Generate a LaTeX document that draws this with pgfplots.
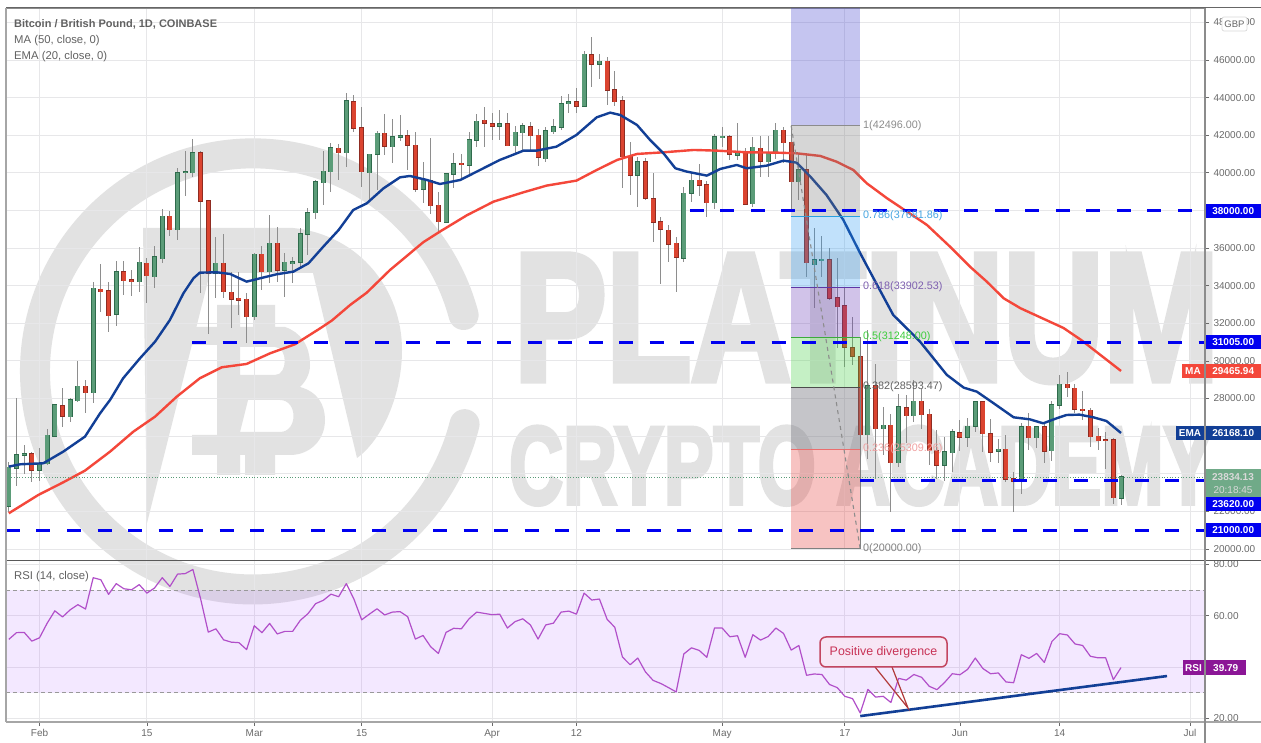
\documentclass[border=0pt]{standalone}
\usepackage{fontspec}
\setmainfont{Liberation Sans}
\newfontfamily\wmf[FakeBold=4]{Liberation Sans Bold}
\usepackage{pgfplots}
\usepackage{pgfplotstable}
\pgfplotsset{compat=1.18}
\definecolor{wm}{HTML}{E2E2E2}
\definecolor{gridc}{HTML}{E7E7E9}
\definecolor{tickc}{HTML}{6A6A6A}
\definecolor{cgreen}{HTML}{5B9C78}
\definecolor{cgreend}{HTML}{2F6B4C}
\definecolor{cred}{HTML}{DB4430}
\definecolor{credd}{HTML}{8F2C22}
\definecolor{wickc}{HTML}{8E8E8E}
\definecolor{emac}{HTML}{123F96}
\definecolor{mac}{HTML}{F4473A}
\definecolor{dashb}{HTML}{0000F0}
\definecolor{rsic}{HTML}{B14FC9}
\definecolor{rsit}{HTML}{8B1696}
\definecolor{lastbox}{HTML}{70AA88}

% d open high low close
\pgfplotstableread{
d o h l c
-4 22289 24646 21952 24344
-3 24309 28012 23370 25000
-2 25000 25514 23990 25060
0 24203 25354 23636 24557
1 24539 26400 24468 26045
2 26010 27700 25939 27658
4 27038 28012 26754 27924
5 27888 29979 27835 28650
7 28314 34214 27747 33860
10 32479 35314 31858 34747
13 34215 36041 33684 35244
15 34482 36111 33861 35528
16 35439 38062 35191 37690
18 36981 40277 36432 39993
19 40000 41180 38771 40060
20 40011 41819 39798 41074
23 34660 36608 33329 35191
28 32354 35758 32178 35670
30 34748 37743 34126 36254
32 34837 35723 33417 35244
33 35174 35546 34126 35280
34 35262 37087 35014 36750
35 36733 38115 35633 37885
36 37885 39621 37529 39533
37 39479 41180 38291 40082
38 40064 41570 39000 41322
40 41074 44228 40330 43821
43 40011 40986 38558 40986
44 40986 42244 39090 42102
46 41393 42846 40507 41907
47 41907 43077 41712 41960
50 39143 40596 38416 39657
53 37371 40000 37318 39958
54 39923 41039 39178 40490
56 40419 42191 39887 41765
57 41748 43112 41393 42740
60 42492 43343 41748 42599
62 41447 42492 41039 42155
63 42138 42634 41128 42510
66 40755 42421 40596 42244
67 42191 42846 42049 42457
68 42439 44087 42279 43679
69 43679 44193 43201 43786
71 43555 46497 43520 46302
73 45770 46302 44973 45930
78 39887 40862 38168 40596
84 35457 39267 35280 38912
85 38912 39976 38434 39604
88 38416 42067 38062 41907
89 41889 42421 41393 41943
91 40933 42669 40685 41128
93 38363 41925 38168 41358
95 40596 41960 39798 41074
96 41074 42669 40720 42262
99 39532 41038 38558 40152
101 35120 37051 32799 35368
102 35333 36644 34447 35403
108 26080 31644 24769 28685
110 26399 27568 24999 26576
112 24591 28242 24343 27568
114 27090 28986 26771 27852
118 24450 25974 23634 25159
119 25123 26363 24113 26239
121 25938 26984 25406 26523
122 26523 27860 26239 27816
125 25194 25832 24556 25300
128 23705 26682 22908 26505
130 25920 26540 25388 26505
132 25229 27887 24697 27657
133 27639 29251 27444 28755
141 22695 23935 22358 23829
}\greencandles

\pgfplotstableread{
d o h l c
-1 25053 25159 23582 24203
3 27605 28544 26506 27055
6 28650 28987 27250 28314
8 33808 35137 32620 33683
9 33718 34215 31557 32407
11 34747 35333 33506 34268
12 34304 34836 33471 34215
14 35190 35456 33099 34534
17 37690 37991 36627 36981
21 41074 41180 33595 38505
22 38505 38558 31433 34660
24 35191 36749 33329 33683
25 33647 34747 31734 33293
26 33328 34747 32443 33240
27 33275 33595 30973 32354
29 35670 36113 33771 34748
31 36254 37140 34214 34837
39 41304 41517 39621 41074
41 43785 44140 42190 42386
42 42403 43484 39231 40064
45 42102 43130 40950 41429
48 41960 42279 40153 41464
49 41464 42191 38966 39143
51 39586 41836 37814 38257
52 38275 39001 36786 37406
55 40507 40986 39621 40472
58 42793 43484 41393 42634
59 42599 43165 41748 42492
61 42599 43165 41429 41447
64 42457 42722 41128 41978
65 41996 42315 40383 40826
70 43768 44494 43201 43555
72 46284 47206 44583 45770
74 45930 46178 43608 44406
75 44423 45416 43555 43786
76 43821 44087 39178 40862
77 40844 41659 38824 39887
79 40596 40773 38540 38647
80 38611 39976 36343 37371
81 37406 37672 34075 37000
82 36946 37211 35280 36201
83 36255 36609 33685 35510
86 39604 40472 38788 39338
87 39356 39586 37637 38416
90 41907 42013 40685 40986
92 41110 41305 38275 38345
94 41305 41960 39798 40631
97 42262 42457 40508 41606
98 41623 42456 38026 39532
100 40152 40950 34482 35226
103 35368 35988 33241 33330
104 33366 35457 30672 32887
105 32923 33950 29695 30723
106 30705 32355 29783 30262
107 30209 30580 26050 26080
109 28685 29837 23723 26399
111 26576 27161 21987 24591
113 27515 28189 25655 27090
115 27852 28490 26363 27143
116 27161 27427 24467 25229
117 25211 26328 23723 24450
120 26186 26860 25229 25938
123 27816 27860 25176 26133
124 26133 26895 24645 25141
126 25300 26044 23546 23723
127 23740 24077 21986 23599
129 26523 27214 25264 25920
131 26487 26770 24591 25194
134 28755 29393 28064 28578
135 28543 28755 27249 27426
136 27426 28418 26859 27355
137 27373 27480 25442 25973
138 25991 26434 25264 25760
139 25796 26203 24237 25760
140 25796 25885 22394 22730
}\redcandles

\pgfplotsset{
  candlewick/.style={draw=none,mark=none,forget plot,
    error bars/.cd,y dir=both,y explicit,error mark=none,
    error bar style={line width=1pt,draw=#1,solid}},
  candlebody/.style 2 args={draw=none,mark=none,forget plot,
    error bars/.cd,y dir=both,y explicit,error mark=none,
    error bar style={line width=#2,draw=#1,solid}},
  paneaxis/.style={
    scale only axis,width=1199pt,
    xmin=-4.37,xmax=151.95,
    xtick={0,14,28,42,59,70,89,105,120,133,150},
    ytick pos=right,xtick pos=bottom,
    yticklabel pos=right,
    scaled y ticks=false,
    tick align=outside,major tick length=4pt,
    tick style={draw=tickc,line width=.8pt},
    grid=major,grid style={gridc,line width=.9pt},
    axis line style={draw=black!45,line width=.8pt},
    /pgf/number format/assume math mode=true,
    /pgf/number format/fixed,/pgf/number format/fixed zerofill,
    /pgf/number format/precision=2,/pgf/number format/1000 sep={},
    yticklabel style={font=\fontsize{10}{12}\selectfont,text=tickc,anchor=west,xshift=1pt},
    xticklabel style={font=\fontsize{10}{12}\selectfont,text=tickc},
    clip=true,
  },
}

\begin{document}
\begin{tikzpicture}
\path[use as bounding box,fill=white] (0,0) rectangle (1261pt,743pt);
% watermark logo and lettering
\begin{scope}[shift={(0pt,743pt)},x=1pt,y=-1pt]
  \draw[wm,line width=30pt,line cap=round] (463.6,315) arc[start angle=-15,end angle=-346,radius=218];
  \fill[wm] (143,228) -- (293,228) .. controls (360,235) and (402,290) .. (402,350)
     .. controls (402,395) and (382,440) .. (357,458) -- (313,273) -- (210,273) -- (147,523) -- cycle;
  \fill[wm,even odd rule] (217,305)--(240,305)--(240,327)--(253,327)--(253,305)--(275,305)--(275,327)--(285,327)
     .. controls (300,332) and (310,345) .. (310,365) .. controls (310,375) and (305,382) .. (300,387)
     .. controls (318,392) and (325,405) .. (325,420) .. controls (325,440) and (310,455) .. (290,455)
     --(275,455)--(275,475)--(245,475)--(245,455)--(240,455)--(240,475)--(217,475)--(217,455)--(192,455)--(192,435)
     --(217,435)--(217,345)--(192,345)--(192,327)--(217,327)--cycle
     (240,347)--(275,347) .. controls (288,347) and (288,375) .. (275,375)--(240,375)--cycle
     (248,400)--(280,400) .. controls (298,400) and (298,432) .. (280,432)--(240,432)--cycle;
  \node[wm,anchor=south west,inner sep=0pt] at (514,382) {\resizebox{704pt}{125pt}{\wmf PLATINUM}};
  \node[wm,anchor=south west,inner sep=0pt] at (509,505) {\resizebox{704pt}{77pt}{\wmf CRYPTO ACADEMY}};
\end{scope}

% ---- price pane ----
\begin{axis}[paneaxis,at={(6pt,183pt)},anchor=south west,height=552pt,
  ymin=19415,ymax=48765,
  ytick={20000,22000,...,48000},
  xticklabels={},
  xtick style={draw=none},
]
% wicks
\addplot[candlewick=wickc] table[x=d,y expr={(\thisrow{h}+\thisrow{l})/2},y error expr={(\thisrow{h}-\thisrow{l})/2}] {\greencandles};
\addplot[candlewick=wickc] table[x=d,y expr={(\thisrow{h}+\thisrow{l})/2},y error expr={(\thisrow{h}-\thisrow{l})/2}] {\redcandles};
% bodies
\addplot[candlebody={cgreend}{5pt}] table[x=d,y expr={(\thisrow{o}+\thisrow{c})/2},y error expr={abs(\thisrow{c}-\thisrow{o})/2+30}] {\greencandles};
\addplot[candlebody={cgreen}{3.4pt}] table[x=d,y expr={(\thisrow{o}+\thisrow{c})/2},y error expr={abs(\thisrow{c}-\thisrow{o})/2}] {\greencandles};
\addplot[candlebody={credd}{5pt}] table[x=d,y expr={(\thisrow{o}+\thisrow{c})/2},y error expr={abs(\thisrow{c}-\thisrow{o})/2+30}] {\redcandles};
\addplot[candlebody={cred}{3.4pt}] table[x=d,y expr={(\thisrow{o}+\thisrow{c})/2},y error expr={abs(\thisrow{c}-\thisrow{o})/2}] {\redcandles};
% MA 50
\addplot[mac,line width=2.4pt,line join=round] coordinates {
(-4,21900)(-0.15,22875)(3.11,23548)(5.93,24168)(9.2,25178)(12.24,26241)(15.07,27039)(17.9,28102)(20.9,29076)(23.76,29661)(27,29839)(30.07,30406)(33.3,30884)(36.6,31735)(38.1,32142)(40.5,32975)(42.67,33631)(45.7,34836)(50.05,36316)(52.2,36875)(55.7,37740)(59.2,38470)(63.1,38966)(66.1,39320)(70,39586)(72.65,40153)(75.3,40685)(77.9,41004)(81.35,41092)(85.3,41216)(88.3,41181)(92.2,41092)(96.1,41074)(98.7,41038)(101.8,40897)(103.9,40595)(106.1,40152)(107.85,39444)(110.5,38646)(113.1,37937)(115.7,37229)(118.7,36077)(121.3,35014)(123.5,34216)(125.7,33330)(127.9,32799)(133.5,31751)(135.8,31113)(141,29466)};
% EMA 20
\addplot[emac,line width=2.4pt,line join=round] coordinates {
(-4,24381)(-2.5,24505)(0.5,24558)(3.1,25178)(5.93,25976)(7.9,27216)(9.2,27925)(10.9,29077)(13.1,30140)(15.07,31026)(17,32178)(18.76,33595)(20.07,34393)(20.9,34694)(23.1,34712)(24.85,34623)(27,34215)(28.76,34393)(30.9,34605)(33.1,34747)(35.07,35190)(37,36076)(39,36962)(40.9,38025)(42.67,38380)(44.85,39177)(47,39762)(48.3,39833)(50.5,39620)(52.2,39407)(54.85,39620)(57,40063)(60,40683)(61.35,40897)(63.1,41181)(64.8,41181)(67.4,41393)(70,42014)(72.65,42953)(74.4,43201)(75.7,43077)(77.9,42545)(79.6,41748)(81.35,41039)(82.9,40242)(84.4,40064)(87,39852)(88.75,40206)(90.9,40419)(92.2,40242)(94.8,40383)(97,40649)(98.7,40542)(100.5,39798)(102.6,38823)(104.8,37494)(107,35722)(109.2,34039)(111.3,32444)(113.5,31558)(114.8,31024)(116.55,30138)(118.3,29252)(120.5,28578)(122.2,28366)(124.4,27746)(127,27001)(129.1,26895)(130.85,26682)(132.6,26948)(133.9,27125)(135.6,27143)(137.4,27001)(139.1,26806)(141,26168)};
% fibonacci bands
\addplot[draw=none,fill={rgb,255:red,63;green,63;blue,208},fill opacity=.3] coordinates {(98,42496)(107,42496)(107,48765)(98,48765)} -- cycle;
\addplot[draw=none,fill={rgb,255:red,120;green,120;blue,120},fill opacity=.3] coordinates {(98,37681.86)(107,37681.86)(107,42496)(98,42496)} -- cycle;
\addplot[draw=none,fill={rgb,255:red,33;green,150;blue,243},fill opacity=.28] coordinates {(98,33902.53)(107,33902.53)(107,37681.86)(98,37681.86)} -- cycle;
\addplot[draw=none,fill={rgb,255:red,103;green,58;blue,183},fill opacity=.3] coordinates {(98,31248)(107,31248)(107,33902.53)(98,33902.53)} -- cycle;
\addplot[draw=none,fill={rgb,255:red,64;green,208;blue,64},fill opacity=.3] coordinates {(98,28593.47)(107,28593.47)(107,31248)(98,31248)} -- cycle;
\addplot[draw=none,fill={rgb,255:red,112;green,112;blue,122},fill opacity=.4] coordinates {(98,25309.26)(107,25309.26)(107,28593.47)(98,28593.47)} -- cycle;
\addplot[draw=none,fill={rgb,255:red,229;green,57;blue,53},fill opacity=.3] coordinates {(98,20000)(107,20000)(107,25309.26)(98,25309.26)} -- cycle;
% fibonacci level lines
\addplot[draw=black!45,line width=1pt] coordinates {(98,42496)(107,42496)};
\addplot[draw={rgb,255:red,40;green,160;blue,225},line width=.9pt] coordinates {(98,37681.86)(107,37681.86)};
\addplot[draw={rgb,255:red,95;green,55;blue,165},line width=.9pt] coordinates {(98,33902.53)(107,33902.53)};
\addplot[draw={rgb,255:red,60;green,170;blue,60},line width=.9pt] coordinates {(98,31248)(107,31248)};
\addplot[draw=black!70,line width=.9pt] coordinates {(98,28593.47)(107,28593.47)};
\addplot[draw={rgb,255:red,235;green,110;blue,110},line width=.9pt] coordinates {(98,25309.26)(107,25309.26)};
\addplot[draw=black!50,line width=1pt] coordinates {(98,20000)(107,20000)(107,31248)};
\addplot[draw=black!45,line width=1.1pt,dash pattern=on 4pt off 4pt] coordinates {(98,42496)(107,20000)};
% horizontal levels
\addplot[dashb,line width=3pt,dash pattern=on 14pt off 16.5pt] coordinates {(84.8,38000)(151.95,38000)};
\addplot[dashb,line width=3pt,dash pattern=on 14pt off 16.5pt] coordinates {(19.9,31005)(151.95,31005)};
\addplot[dashb,line width=3pt,dash pattern=on 14pt off 16.5pt] coordinates {(107,23620)(151.95,23620)};
\addplot[dashb,line width=3pt,dash pattern=on 14pt off 16.5pt] coordinates {(-4.37,21000)(151.95,21000)};
% last price
\addplot[cgreen,line width=.7pt,dotted] coordinates {(-4.37,23834.13)(151.95,23834.13)};
\end{axis}

% ---- RSI pane ----
\begin{axis}[paneaxis,at={(6pt,21pt)},anchor=south west,height=162pt,
  ymin=18.6,ymax=81.7,
  ytick={20,40,60,80},
  xticklabels={Feb,15,Mar,15,Apr,12,May,17,Jun,14,Jul},
]
\addplot[draw=none,fill={rgb,255:red,176;green,96;blue,255},fill opacity=.14] coordinates {(-4.37,30)(151.95,30)(151.95,70)(-4.37,70)} -- cycle;
\addplot[draw=black!40,line width=.8pt,dash pattern=on 4pt off 3pt] coordinates {(-4.37,70)(151.95,70)};
\addplot[draw=black!40,line width=.8pt,dash pattern=on 4pt off 3pt] coordinates {(-4.37,30)(151.95,30)};
\addplot[rsic,line width=1.2pt,line join=round] coordinates {
(-4,50.8)(-3,53.4)(-2,53.5)(-1,50.1)(0,51.4)(1,57.1)(2,61.9)(3,59.5)(4,62.3)(5,64.3)(6,62.6)(7,74.8)(8,74.0)(9,68.3)(10,72.5)(11,70.5)(12,70.1)(13,72.1)(14,68.8)(15,70.8)(16,74.8)(17,71.4)(18,76.2)(19,76.4)(20,78.0)(21,66.6)(22,53.6)(23,54.9)(24,50.6)(25,49.7)(26,49.5)(27,46.8)(28,56.1)(29,53.4)(30,57.0)(31,52.9)(32,53.9)(33,53.9)(34,58.2)(35,60.8)(36,64.7)(37,66.0)(38,68.4)(39,67.4)(40,72.5)(41,66.4)(42,58.4)(43,60.6)(44,62.7)(45,60.3)(46,61.4)(47,61.6)(48,59.6)(49,50.9)(50,52.3)(51,47.9)(52,45.3)(53,53.5)(54,55.1)(55,54.9)(56,58.8)(57,61.4)(58,60.9)(59,60.4)(60,60.6)(61,55.2)(62,57.7)(63,58.8)(64,56.4)(65,50.9)(66,56.4)(67,57.1)(68,61.4)(69,61.8)(70,60.6)(71,68.8)(72,66.1)(73,66.5)(74,58.6)(75,55.5)(76,43.9)(77,40.9)(78,43.5)(79,38.1)(80,34.8)(81,33.6)(82,32.0)(83,30.3)(84,45.1)(85,47.5)(86,46.5)(87,43.8)(88,55.2)(89,55.2)(90,51.8)(91,52.2)(92,43.8)(93,52.6)(94,50.5)(95,51.9)(96,55.2)(97,53.1)(98,46.6)(99,48.4)(100,36.8)(101,37.3)(102,37.1)(103,33.2)(104,32.0)(105,28.6)(106,27.7)(107,22.1)(108,31.3)(109,28.3)(110,28.6)(111,26.2)(112,35.6)(113,34.9)(114,37.1)(115,36.0)(116,32.5)(117,31.2)(118,34.0)(119,37.4)(120,37.0)(121,39.1)(122,43.5)(123,39.4)(124,37.4)(125,37.7)(126,34.2)(127,33.9)(128,44.8)(129,43.4)(130,45.3)(131,41.8)(132,50.0)(133,53.0)(134,52.5)(135,49.0)(136,48.4)(137,44.2)(138,43.6)(139,43.6)(140,35.1)(141,39.79)};
\addplot[emac,line width=2.6pt] coordinates {(107,20.9)(147,36.5)};
\end{axis}

% ---- overlays in picture pixels ----
\begin{scope}[shift={(0pt,743pt)},x=1pt,y=-1pt]
  \draw[black!60,line width=1pt] (6,8) -- (1261,8);
  \draw[black!65,line width=1pt] (6,560.3) -- (1261,560.3);
  \draw[black!35,line width=1.6pt] (6,722) -- (1261,722);
  \draw[black!45,line width=1.2pt] (1205,8) -- (1205,743);
  \draw[black!35,line width=2pt] (6,8) -- (6,722);
  % pane legends
  \node[anchor=west,inner sep=0pt,text=black!62,font=\bfseries\fontsize{11}{12}\selectfont] at (14,24.5) {Bitcoin / British Pound, 1D, COINBASE};
  \node[anchor=west,inner sep=0pt,text=black!62,font=\fontsize{11.3}{12}\selectfont] at (14,40.5) {MA (50, close, 0)};
  \node[anchor=west,inner sep=0pt,text=black!62,font=\fontsize{11.3}{12}\selectfont] at (14,56.5) {EMA (20, close, 0)};
  \node[anchor=west,inner sep=0pt,text=black!62,font=\fontsize{11.3}{12}\selectfont] at (14,576.5) {RSI (14, close)};
  % fibonacci labels
  \tikzset{fib/.style={anchor=west,inner sep=0pt,font=\fontsize{10.8}{12}\selectfont}}
  \node[fib,text=black!45] at (863,126) {1(42496.00)};
  \node[fib,text={rgb,255:red,70;green,165;blue,225}] at (863,216) {0.786(37681.86)};
  \node[fib,text={rgb,255:red,125;green,95;blue,175}] at (863,287) {0.618(33902.53)};
  \node[fib,text={rgb,255:red,60;green,205;blue,60}] at (863,337) {0.5(31248.00)};
  \node[fib,text=black!62] at (863,387) {0.382(28593.47)};
  \node[fib,text={rgb,255:red,240;green,160;blue,160}] at (863,449) {0.236(25309.26)};
  \node[fib,text=black!50] at (863,549) {0(20000.00)};
  % callout
  \draw[line width=1.2pt,draw={rgb,255:red,178;green,58;blue,58}] (875,667) -- (908,708) -- (892,667);
  \draw[line width=1.5pt,draw={rgb,255:red,195;green,70;blue,95},fill={rgb,255:red,247;green,230;blue,245},rounded corners=6pt] (820,637) rectangle (947,667);
  \node[text={rgb,255:red,200;green,50;blue,85},font=\fontsize{12.4}{12}\selectfont,inner sep=0pt] at (883.5,652) {Positive divergence};
  % price scale tags
  \tikzset{tag/.style={anchor=west,inner sep=0pt,text=white,font=\bfseries\fontsize{10}{12}\selectfont,minimum height=14pt,minimum width=55pt,align=center}}
  \node[tag,fill=dashb] at (1205.5,211) {38000.00};
  \node[tag,fill=dashb] at (1205.5,342) {31005.00};
  \node[tag,fill=mac] at (1205.5,371) {29465.94};
  \node[anchor=east,inner sep=0pt,text=white,fill=mac,font=\bfseries\fontsize{10}{12}\selectfont,minimum height=14pt,minimum width=22pt] at (1204.2,371) {MA};
  \node[tag,fill=emac] at (1205.5,433) {26168.10};
  \node[anchor=east,inner sep=0pt,text=white,fill=emac,font=\bfseries\fontsize{10}{12}\selectfont,minimum height=14pt,minimum width=28pt] at (1204.2,433) {EMA};
  \fill[lastbox] (1205.5,469) rectangle (1260.5,497);
  \node[anchor=center,inner sep=0pt,text=white!85!black,font=\bfseries\fontsize{10}{12}\selectfont] at (1233,477) {23834.13};
  \node[anchor=center,inner sep=0pt,text=white!85!black,font=\fontsize{10}{12}\selectfont] at (1233,490) {20:18:45};
  \node[tag,fill=dashb] at (1205.5,504) {23620.00};
  \node[tag,fill=dashb] at (1205.5,530) {21000.00};
  \node[anchor=west,inner sep=0pt,text=white,fill=rsit,font=\bfseries\fontsize{10}{12}\selectfont,minimum height=15pt,minimum width=40pt] at (1205.5,668) {39.79};
  \node[anchor=east,inner sep=0pt,text=white,fill=rsit,font=\bfseries\fontsize{10}{12}\selectfont,minimum height=15pt,minimum width=21pt] at (1204.2,668) {RSI};
  \draw[black!15,fill=white,rounded corners=2pt,line width=.7pt] (1222,17) rectangle (1247,31);
  \node[text=black!60,font=\fontsize{9.5}{12}\selectfont,inner sep=0pt] at (1234.5,24) {GBP};
\end{scope}
\end{tikzpicture}
\end{document}
